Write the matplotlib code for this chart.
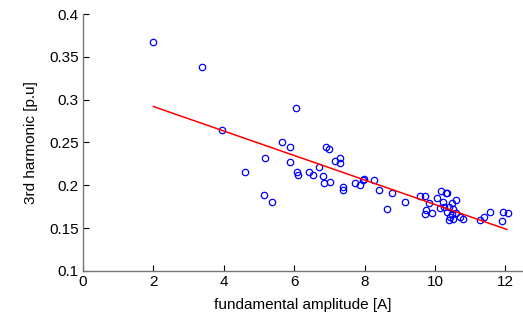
import matplotlib
matplotlib.use("Agg")
import matplotlib.pyplot as plt

plt.rcParams["font.family"] = ["Liberation Sans", "DejaVu Sans"]

# measured points: fundamental amplitude [A] vs 3rd harmonic [p.u]
amp = [1.98, 3.37, 3.96, 6.06, 5.66, 5.87, 6.89, 6.99, 5.16, 5.87,
       7.29, 7.16, 7.30, 4.60, 6.09, 6.10, 6.42, 6.54, 6.70, 6.82,
       6.86, 7.02, 5.15, 5.38, 7.40, 7.38, 7.73, 7.86, 7.95, 7.98,
       8.28, 8.40, 8.77, 8.64, 9.16, 9.56, 9.71, 9.82, 9.75, 9.71,
       9.91, 10.07, 10.18, 10.30, 10.35, 10.59, 10.47, 10.22, 10.26, 10.41,
       10.52, 10.33, 10.47, 10.60, 10.43, 10.39, 10.52, 10.70, 10.79, 11.29,
       11.38, 11.55, 11.93, 12.06, 11.90, 10.15]
h3 = [0.367, 0.338, 0.2645, 0.2906, 0.251, 0.245, 0.2445, 0.2427, 0.2315, 0.2268,
      0.232, 0.2284, 0.2264, 0.2155, 0.2155, 0.2117, 0.2155, 0.212, 0.2217, 0.2105,
      0.2023, 0.2039, 0.189, 0.181, 0.1977, 0.1945, 0.2023, 0.2003, 0.2062, 0.2077,
      0.2058, 0.1942, 0.1907, 0.1727, 0.1809, 0.1875, 0.1875, 0.179, 0.1708, 0.1662,
      0.1677, 0.1855, 0.1937, 0.1907, 0.1905, 0.1828, 0.1797, 0.180, 0.1743, 0.175,
      0.1723, 0.1688, 0.1665, 0.1673, 0.1627, 0.1595, 0.161, 0.1634, 0.1607, 0.1595,
      0.1634, 0.1692, 0.1692, 0.168, 0.158, 0.174]

# linear fit end points
fit_x = [2.0, 12.04]
fit_y = [0.292, 0.1485]

yticks = [0.1, 0.15, 0.2, 0.25, 0.3, 0.35, 0.4]
ytick_labels = ["0.1", "0.15", "0.2", "0.25", "0.3", "0.35", "0.4"]
xticks = [0, 2, 4, 6, 8, 10, 12]

fig = plt.figure(figsize=(5.23, 3.24), dpi=100)
ax = fig.add_axes([83 / 523, 53 / 324, 440 / 523, 257 / 324])

ax.plot(amp, h3, "o", mfc="none", mec="#0000ff", ms=4.6, mew=0.9)
ax.plot(fit_x, fit_y, "-", color="#ff0000", lw=1.1)

ax.set_xlim(0, 12.5)
ax.set_ylim(0.1, 0.4)
ax.set_xticks(xticks)
ax.set_yticks(yticks)
ax.set_yticklabels(ytick_labels)

for side in ("top", "right"):
    ax.spines[side].set_visible(False)
for side in ("left", "bottom"):
    ax.spines[side].set_color("#777777")
    ax.spines[side].set_linewidth(1.0)
ax.tick_params(direction="in", length=4, width=0.8, color="black",
               labelsize=11, pad=3)

ax.set_xlabel("fundamental amplitude [A]", fontsize=11, labelpad=6)
ax.set_ylabel("3rd harmonic [p.u]", fontsize=11, labelpad=8)

fig.savefig("out.png", dpi=100)
